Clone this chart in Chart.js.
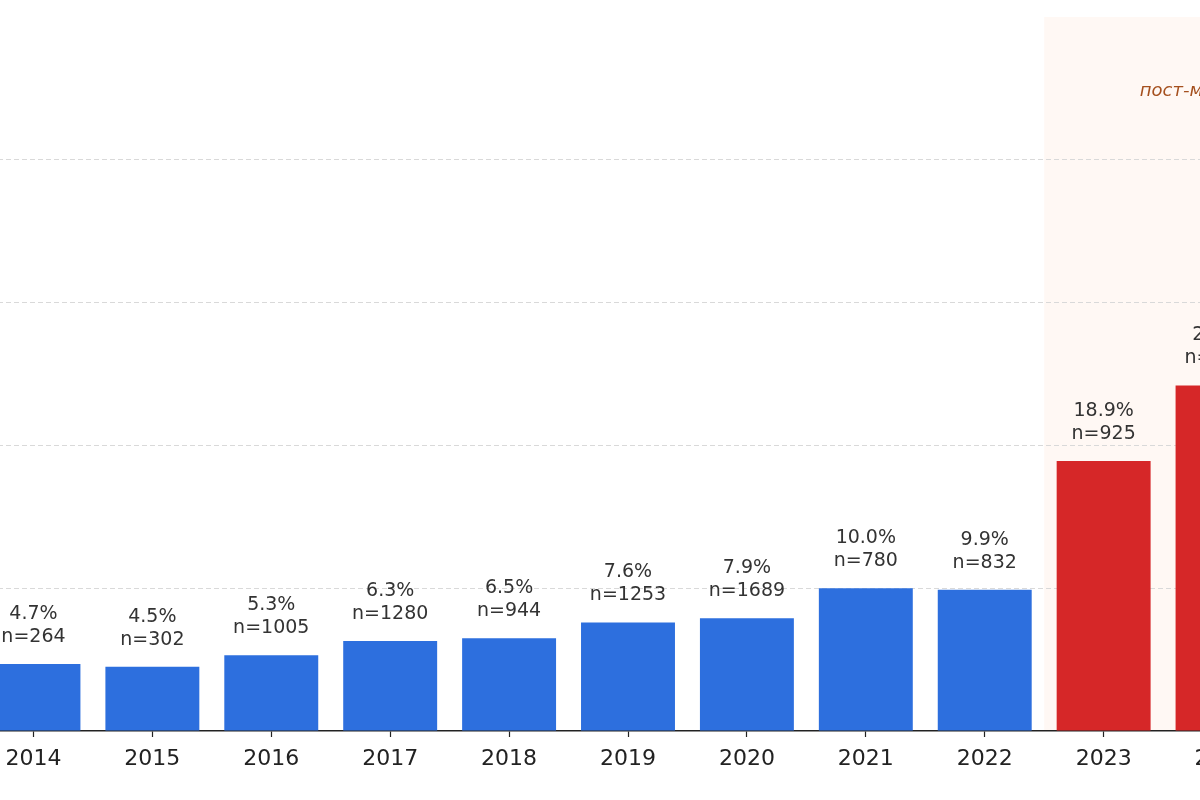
<!DOCTYPE html>
<html>
<head>
<meta charset="utf-8">
<script src="https://cdn.jsdelivr.net/npm/chart.js@4"></script>
<style>
  body { margin: 0; background: #fff; overflow: hidden; width: 1200px; height: 800px; position: relative; }
  #wrap { position: absolute; left: -26px; top: 0; width: 1308px; height: 800px; }
</style>
</head>
<body>
<div id="wrap"><canvas id="shareChart" width="1308" height="800"></canvas></div>
<script>
// данные по годам
var years = ['2014', '2015', '2016', '2017', '2018', '2019', '2020', '2021', '2022', '2023', '2024'];
var share = [4.7, 4.5, 5.3, 6.3, 6.5, 7.6, 7.9, 10.0, 9.9, 18.9, 24.2];
var counts = [264, 302, 1005, 1280, 944, 1253, 1689, 780, 832, 925, 1040];
var postPeriod = [false, false, false, false, false, false, false, false, false, true, true];
var yTicks = [0, 10, 20, 30, 40, 50];
var spanLabel = 'пост-мобилизация';

var barColors = postPeriod.map(function (p) { return p ? '#d62728' : '#2d6fde'; });

// фон для пост-периода
var spanPlugin = {
    id: 'spanBg',
    beforeDraw: function (chart) {
        var x = chart.scales.x, area = chart.chartArea, ctx = chart.ctx;
        var first = postPeriod.indexOf(true);
        var step = x.getPixelForValue(1) - x.getPixelForValue(0);
        var left = x.getPixelForValue(first) - step / 2;
        ctx.save();
        ctx.fillStyle = '#fff8f4';
        ctx.fillRect(left, area.top, area.right - left, area.bottom - area.top);
        ctx.restore();
    },
    afterDraw: function (chart) {
        var x = chart.scales.x, y = chart.scales.y, ctx = chart.ctx;
        ctx.save();
        ctx.font = 'italic 18px "DejaVu Sans"';
        ctx.fillStyle = '#a5501e';
        ctx.textAlign = 'center';
        ctx.textBaseline = 'middle';
        ctx.fillText(spanLabel, x.getPixelForValue(years.length - 1) + 5, y.getPixelForValue(44.8));
        ctx.restore();
    }
};

// подписи над столбцами
var labelPlugin = {
    id: 'barLabels',
    afterDatasetsDraw: function (chart) {
        var ctx = chart.ctx;
        var meta = chart.getDatasetMeta(0);
        ctx.save();
        ctx.font = '19px "DejaVu Sans"';
        ctx.fillStyle = '#333333';
        ctx.textAlign = 'center';
        ctx.textBaseline = 'middle';
        meta.data.forEach(function (bar, i) {
            ctx.fillText(share[i].toFixed(1) + '%', bar.x, bar.y - 50);
            ctx.fillText('n=' + counts[i], bar.x, bar.y - 27);
        });
        ctx.restore();
    }
};

var shareChart = new Chart(document.getElementById('shareChart'), {
    type: 'bar',
    data: {
        labels: years,
        datasets: [{
            data: share,
            backgroundColor: barColors,
            borderWidth: 0,
            barPercentage: 0.79,
            categoryPercentage: 1.0,
        }]
    },
    options: {
        responsive: false,
        animation: false,
        layout: { padding: { top: 17, left: 0, right: 0, bottom: 0 } },
        plugins: {
            legend: { display: false },
            tooltip: { enabled: false },
        },
        scales: {
            x: {
                offset: true,
                grid: {
                    display: true,
                    offset: false,
                    drawOnChartArea: false,
                    tickLength: 6,
                    tickWidth: 1.2,
                    tickColor: '#222',
                },
                border: { display: true, color: '#222', width: 1.5 },
                ticks: {
                    color: '#222',
                    padding: 9,
                    font: { family: 'DejaVu Sans', size: 22 },
                },
                afterFit: function (scale) { scale.height = 69; }
            },
            y: {
                min: 0,
                max: 50,
                afterBuildTicks: function (scale) {
                    scale.ticks = yTicks.map(function (v) { return { value: v }; });
                },
                ticks: { display: false },
                border: { display: false, dash: [5, 3] },
                grid: {
                    drawTicks: false,
                    lineWidth: 1,
                    color: function (c) {
                        var v = c.tick ? c.tick.value : 0;
                        return (v === 0 || v === 50) ? 'rgba(0,0,0,0)' : '#d9d9d9';
                    }
                },
                afterFit: function (scale) { scale.width = 0; }
            }
        }
    },
    plugins: [spanPlugin, labelPlugin]
});
</script>
</body>
</html>
